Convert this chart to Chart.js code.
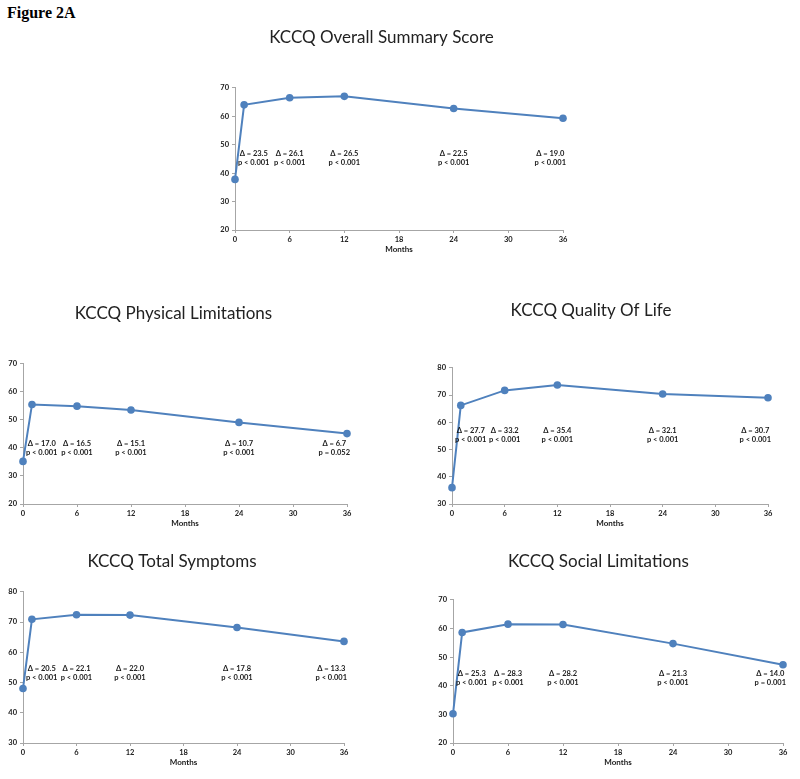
<!DOCTYPE html>
<html>
<head>
<meta charset="utf-8">
<title>Figure 2A - KCCQ</title>
<script src="https://cdn.jsdelivr.net/npm/chart.js@4.4.1/dist/chart.umd.min.js"></script>
<style>
  body { margin: 0; background: #fff; }
  #page { position: relative; width: 800px; height: 779px; overflow: hidden; }
  .fig-label { position: absolute; left: 7px; top: 5px; font: bold 16px/16px "Liberation Serif", serif; color: #000; }
  .box { position: absolute; }
</style>
</head>
<body>
<div id="page">
  <div class="fig-label">Figure 2A</div>
  <div class="box" style="left:200px;top:20px;width:402px;height:240px"><canvas id="overall" width="402" height="240"></canvas></div>
  <div class="box" style="left:0px;top:295px;width:386px;height:239px"><canvas id="physical" width="386" height="239"></canvas></div>
  <div class="box" style="left:414px;top:295px;width:386px;height:239px"><canvas id="qol" width="386" height="239"></canvas></div>
  <div class="box" style="left:0px;top:540px;width:386px;height:233px"><canvas id="symptoms" width="386" height="233"></canvas></div>
  <div class="box" style="left:414px;top:540px;width:386px;height:233px"><canvas id="social" width="386" height="233"></canvas></div>
</div>
<script>
// months of follow-up
var months = [0, 1, 6, 12, 24, 36];
var followUp = [1, 6, 12, 24, 36];

// mean scores per domain
var overallScores  = [37.8, 64.0, 66.5, 67.0, 62.7, 59.3];
var physicalScores = [35.2, 55.5, 54.9, 53.5, 49.1, 45.1];
var qolScores      = [36.0, 66.2, 71.7, 73.7, 70.4, 69.0];
var symptomScores  = [48.0, 70.9, 72.4, 72.3, 68.2, 63.6];
var socialScores   = [30.2, 58.6, 61.5, 61.4, 54.7, 47.3];

// change from baseline and p values
var overallDeltas  = [23.5, 26.1, 26.5, 22.5, 19.0];
var overallP       = ['p < 0.001', 'p < 0.001', 'p < 0.001', 'p < 0.001', 'p < 0.001'];
var physicalDeltas = [17.0, 16.5, 15.1, 10.7, 6.7];
var physicalP      = ['p < 0.001', 'p < 0.001', 'p < 0.001', 'p < 0.001', 'p = 0.052'];
var qolDeltas      = [27.7, 33.2, 35.4, 32.1, 30.7];
var qolP           = ['p < 0.001', 'p < 0.001', 'p < 0.001', 'p < 0.001', 'p < 0.001'];
var symptomDeltas  = [20.5, 22.1, 22.0, 17.8, 13.3];
var symptomP       = ['p < 0.001', 'p < 0.001', 'p < 0.001', 'p < 0.001', 'p < 0.001'];
var socialDeltas   = [25.3, 28.3, 28.2, 21.3, 14.0];
var socialP        = ['p < 0.001', 'p < 0.001', 'p < 0.001', 'p < 0.001', 'p = 0.001'];

var BLUE = '#4f81bd';
var AXIS = '#a6a6a6';
var FONT = 'Lato, "DejaVu Sans", sans-serif';

// draws the "Δ = x / p < y" text under each point
var deltaLabels = {
    id: 'deltaLabels',
    afterDatasetsDraw: function(chart, args, opts) {
        var ctx = chart.ctx;
        var xs = chart.scales.x;
        var ys = chart.scales.y;
        var area = chart.chartArea;
        ctx.save();
        ctx.font = 'bold 7.5px ' + FONT;
        ctx.fillStyle = '#1a1a1a';
        ctx.textAlign = 'center';
        ctx.textBaseline = 'middle';
        var top = ys.getPixelForValue(opts.level);
        opts.months.forEach(function(m, i) {
            var l1 = '\u0394 = ' + opts.deltas[i].toFixed(1);
            var l2 = opts.pvalues[i];
            var w = Math.max(ctx.measureText(l1).width, ctx.measureText(l2).width);
            var cx = xs.getPixelForValue(m);
            cx = Math.max(cx, area.left + 3 + w / 2);
            cx = Math.min(cx, area.right + 3 - w / 2);
            ctx.fillText(l1, cx, top);
            ctx.fillText(l2, cx, top + 9);
        });
        ctx.restore();
    }
};

function createScoreChart(elementId, title, scores, deltas, pvalues, yMin, yMax, level, lay) {
    var element = document.getElementById(elementId);
    if (!element) {
        console.error('Element #' + elementId + ' not found');
        return null;
    }
    var ctx = element.getContext('2d');
    return new Chart(ctx, {
        type: 'line',
        data: {
            datasets: [{
                data: months.map(function(m, i) { return { x: m, y: scores[i] }; }),
                borderColor: BLUE,
                backgroundColor: BLUE,
                borderWidth: 2,
                pointRadius: 3.8,
                pointBorderWidth: 0,
                clip: false,
                tension: 0
            }]
        },
        plugins: [deltaLabels],
        options: {
            responsive: false,
            animation: false,
            layout: { padding: { left: 0, right: lay.right, top: 0, bottom: 0 } },
            scales: {
                x: {
                    type: 'linear',
                    min: 0,
                    max: 36,
                    afterFit: function(scale) { scale.height = 30; },
                    border: { color: AXIS, width: 1 },
                    grid: { drawOnChartArea: false, drawTicks: true, tickLength: 3, color: AXIS },
                    ticks: { stepSize: 6, padding: 2, color: '#1a1a1a', font: { family: FONT, size: 7.5, weight: 'bold' } },
                    title: { display: true, text: 'Months', color: '#1a1a1a', padding: { top: 0, bottom: 6 },
                             font: { family: FONT, size: 8, weight: 'bold' } }
                },
                y: {
                    min: yMin,
                    max: yMax,
                    afterFit: function(scale) { scale.width = lay.yWidth; },
                    border: { color: AXIS, width: 1 },
                    grid: { drawOnChartArea: false, drawTicks: true, tickLength: 3, color: AXIS },
                    ticks: { stepSize: 10, padding: 3, color: '#1a1a1a', font: { family: FONT, size: 7.5, weight: 'bold' } }
                }
            },
            plugins: {
                legend: { display: false },
                tooltip: { enabled: false },
                title: {
                    display: true,
                    text: title,
                    color: '#222',
                    font: { family: FONT, size: 17, weight: 'normal' },
                    padding: { top: lay.titleTop, bottom: lay.titleBottom }
                },
                deltaLabels: { months: followUp, deltas: deltas, pvalues: pvalues, level: level }
            }
        }
    });
}

createScoreChart('overall', 'KCCQ Overall Summary Score', overallScores, overallDeltas, overallP, 20, 70, 46.7,
    { right: 39, yWidth: 35, titleTop: 7, titleBottom: 40.4 });
createScoreChart('physical', 'KCCQ Physical Limitations', physicalScores, physicalDeltas, physicalP, 20, 70, 41.6,
    { right: 39, yWidth: 23, titleTop: 8.2, titleBottom: 40.2 });
createScoreChart('qol', 'KCCQ Quality Of Life', qolScores, qolDeltas, qolP, 30, 80, 56.8,
    { right: 32, yWidth: 38, titleTop: 5.2, titleBottom: 47.2 });
createScoreChart('symptoms', 'KCCQ Total Symptoms', symptomScores, symptomDeltas, symptomP, 30, 80, 54.6,
    { right: 42, yWidth: 23, titleTop: 11.2, titleBottom: 20.2 });
createScoreChart('social', 'KCCQ Social Limitations', socialScores, socialDeltas, socialP, 20, 70, 44.1,
    { right: 17, yWidth: 39, titleTop: 11.2, titleBottom: 28.2 });
</script>
</body>
</html>
